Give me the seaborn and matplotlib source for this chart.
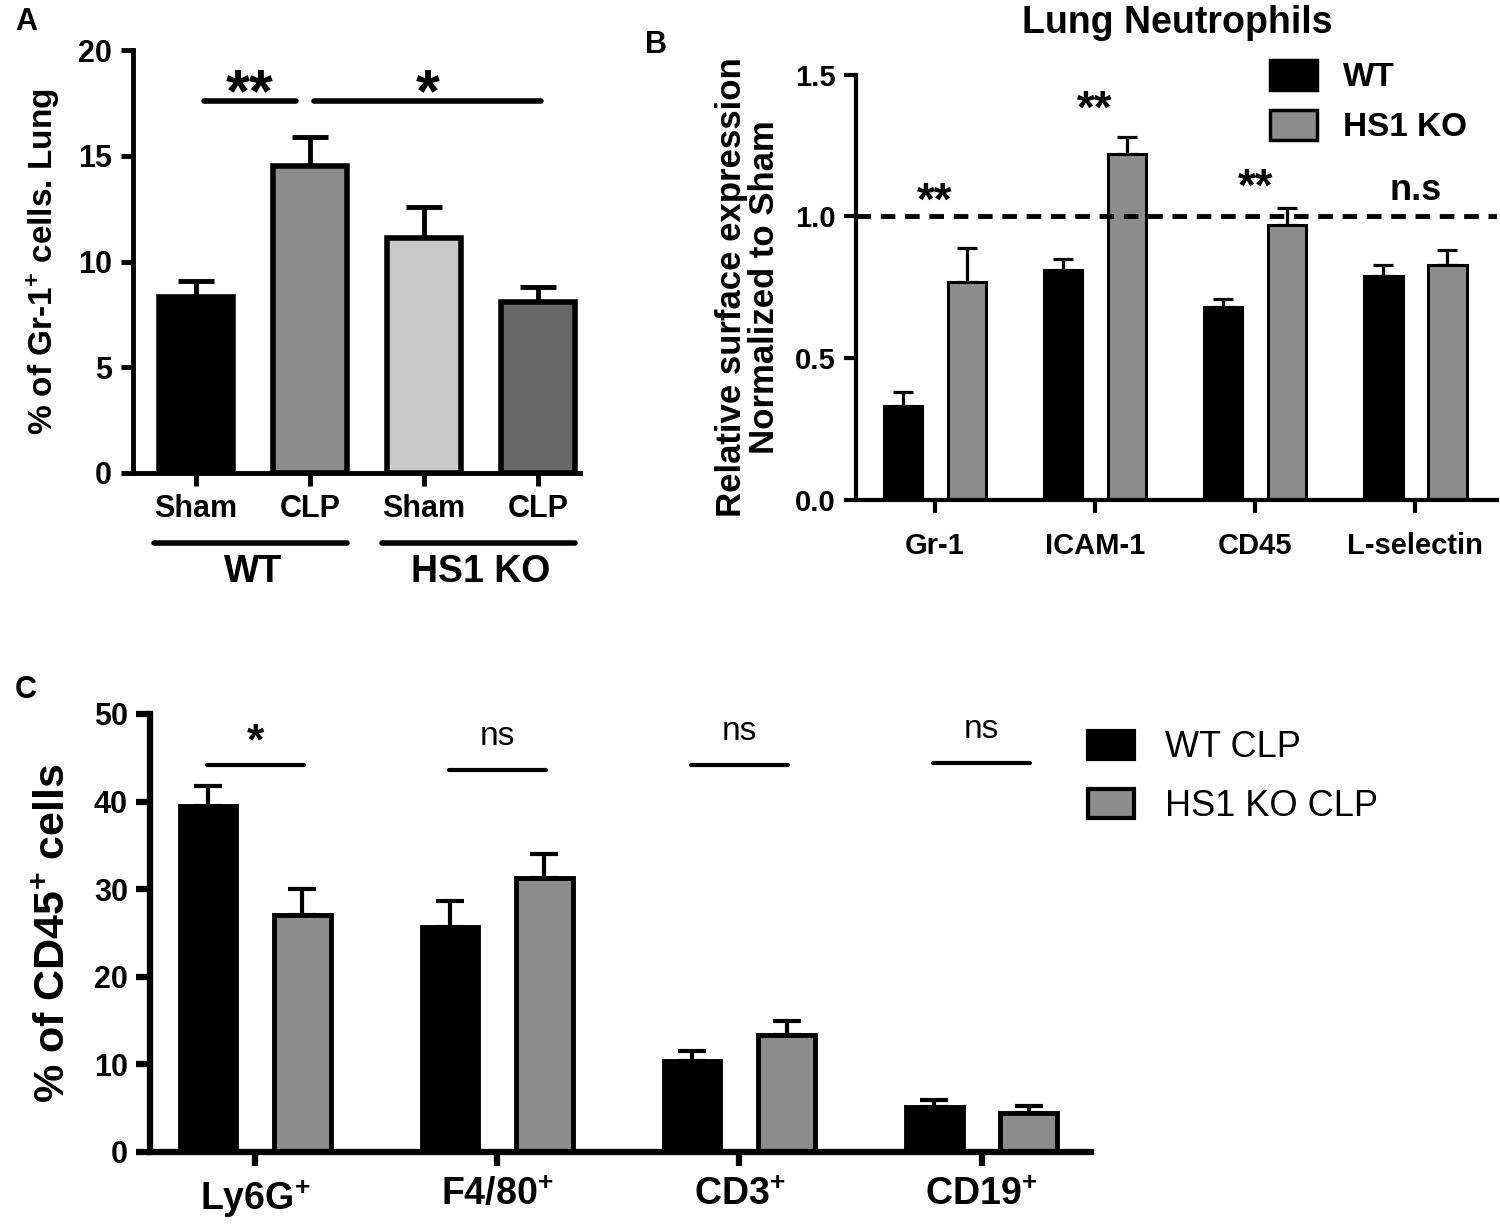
import numpy as np
import pandas as pd
import seaborn as sns
import matplotlib.pyplot as plt
from matplotlib.patches import Patch

# --- Painel A: % de células Gr-1+ no pulmão ---
grupos_a = ['WT Sham', 'WT CLP', 'KO Sham', 'KO CLP']
rotulos_a = ['Sham', 'CLP', 'Sham', 'CLP']
media_a = [8.3, 14.5, 11.1, 8.1]
erro_a = [0.8, 1.4, 1.5, 0.7]
cores_a = ['#000000', '#8c8c8c', '#cacaca', '#686868']

# --- Painel B: expressão relativa (neutrófilos do pulmão) ---
marcadores_b = ['Gr-1', 'ICAM-1', 'CD45', 'L-selectin']
wt_b = [0.33, 0.81, 0.68, 0.79]
wt_b_erro = [0.05, 0.04, 0.03, 0.04]
ko_b = [0.77, 1.22, 0.97, 0.83]
ko_b_erro = [0.12, 0.06, 0.06, 0.05]
sig_b = ['**', '**', '**', 'n.s']
sig_b_y = [0.97, 1.295, 1.02, 1.03]

# --- Painel C: % de células CD45+ ---
celulas_c = ['Ly6G', 'F4/80', 'CD3', 'CD19']
wt_c = [39.5, 25.7, 10.4, 5.1]
wt_c_erro = [2.3, 2.9, 1.1, 0.8]
ko_c = [27.1, 31.3, 13.4, 4.4]
ko_c_erro = [2.9, 2.7, 1.5, 0.8]
sig_c = ['*', 'ns', 'ns', 'ns']
linha_c_y = [44.2, 43.6, 44.2, 44.4]

sns.set_style('ticks')
plt.rcParams['font.family'] = ['Liberation Sans', 'DejaVu Sans']
plt.rcParams['text.color'] = 'black'
plt.rcParams['axes.labelcolor'] = 'black'
plt.rcParams['xtick.color'] = 'black'
plt.rcParams['ytick.color'] = 'black'
plt.rcParams['axes.edgecolor'] = 'black'
plt.rcParams['mathtext.fontset'] = 'custom'
plt.rcParams['mathtext.rm'] = 'Liberation Sans:bold'
plt.rcParams['mathtext.it'] = 'Liberation Sans:bold'
plt.rcParams['mathtext.bf'] = 'Liberation Sans:bold'


def estilo(ax, lw, tam):
    sns.despine(ax=ax)
    for s in ['left', 'bottom']:
        ax.spines[s].set_linewidth(lw)
    ax.tick_params(width=lw, length=tam, direction='out', pad=6)


def barras_erro(ax, barras, medias, erros, lw, cap):
    xs = [b.get_x() + b.get_width() / 2 for b in barras]
    ax.errorbar(xs, medias, yerr=[np.zeros(len(erros)), erros], fmt='none',
                ecolor='black', elinewidth=lw, capsize=cap, capthick=lw, zorder=0.5)


fig = plt.figure(figsize=(15, 12.25), dpi=100)

# ---------------- Painel A ----------------
ax_a = fig.add_axes([0.0887, 0.614, 0.298, 0.345])
df_a = pd.DataFrame({'grupo': grupos_a, 'valor': media_a})
sns.barplot(data=df_a, x='grupo', y='valor', hue='grupo', order=grupos_a, hue_order=grupos_a,
            palette=cores_a, width=0.65, edgecolor='black', linewidth=4, legend=False, ax=ax_a)
barras_erro(ax_a, ax_a.patches, media_a, erro_a, 3.5, 13)
estilo(ax_a, 3.5, 9)
ax_a.set_xlim(-0.55, 3.37)
ax_a.set_ylim(0, 20)
ax_a.set_yticks([0, 5, 10, 15, 20])
ax_a.set_xticks(range(4))
ax_a.set_xticklabels(rotulos_a, fontsize=22, fontweight='bold')
for t in ax_a.get_yticklabels():
    t.set_fontsize(22)
    t.set_fontweight('bold')
ax_a.set_xlabel('')
ax_a.set_ylabel('% of Gr-1$^{+}$ cells. Lung', fontsize=24, fontweight='bold', labelpad=12)
# linhas de significância
ax_a.plot([0.07, 0.88], [17.6, 17.6], color='black', lw=4, clip_on=False)
ax_a.plot([1.04, 3.03], [17.6, 17.6], color='black', lw=4, clip_on=False)
ax_a.text(0.47, 16.5, '**', ha='center', va='bottom', fontsize=44, fontweight='bold')
ax_a.text(2.03, 16.5, '*', ha='center', va='bottom', fontsize=44, fontweight='bold')
# rótulos de grupo abaixo do eixo
trans = ax_a.get_xaxis_transform()
ax_a.plot([-0.37, 1.33], [-0.165, -0.165], color='black', lw=4, transform=trans, clip_on=False)
ax_a.plot([1.63, 3.33], [-0.165, -0.165], color='black', lw=4, transform=trans, clip_on=False)
ax_a.text(0.5, -0.235, 'WT', ha='center', va='center', fontsize=27, fontweight='bold', transform=trans)
ax_a.text(2.5, -0.235, 'HS1 KO', ha='center', va='center', fontsize=27, fontweight='bold', transform=trans)

# ---------------- Painel B ----------------
ax_b = fig.add_axes([0.571, 0.592, 0.427, 0.347])
df_b = pd.DataFrame({'marcador': marcadores_b * 2,
                     'grupo': ['WT'] * 4 + ['HS1 KO'] * 4,
                     'valor': wt_b + ko_b})
sns.barplot(data=df_b, x='marcador', y='valor', hue='grupo', order=marcadores_b,
            hue_order=['WT', 'HS1 KO'], palette=['#000000', '#8c8c8c'], width=0.8, gap=0.4,
            edgecolor='black', linewidth=2.2, legend=False, ax=ax_b)
barras_erro(ax_b, ax_b.containers[0], wt_b, wt_b_erro, 2.3, 7)
barras_erro(ax_b, ax_b.containers[1], ko_b, ko_b_erro, 2.3, 7)
estilo(ax_b, 3, 9)
ax_b.set_xlim(-0.49, 3.51)
ax_b.set_ylim(0, 1.5)
ax_b.set_yticks([0.0, 0.5, 1.0, 1.5])
ax_b.set_yticklabels(['0.0', '0.5', '1.0', '1.5'])
for t in ax_b.get_yticklabels() + ax_b.get_xticklabels():
    t.set_fontsize(21)
    t.set_fontweight('bold')
ax_b.tick_params(axis='x', pad=14)
ax_b.axhline(1.0, color='black', lw=3.5, linestyle=(0, (3, 2)), zorder=3)
ax_b.set_xlabel('')
ax_b.set_ylabel('Relative surface expression\nNormalized to Sham', fontsize=25,
                fontweight='bold', labelpad=10, linespacing=1.0)
ax_b.set_title('Lung Neutrophils', fontsize=27, fontweight='bold', pad=30)
for i, (s, y) in enumerate(zip(sig_b, sig_b_y)):
    if s == 'n.s':
        ax_b.text(i, y, s, ha='center', va='bottom', fontsize=26, fontweight='bold')
    else:
        ax_b.text(i, y, s, ha='center', va='bottom', fontsize=33, fontweight='bold')
ax_b.legend(handles=[Patch(facecolor='#000000', edgecolor='black', lw=2.5, label='WT'),
                     Patch(facecolor='#8c8c8c', edgecolor='black', lw=2.5, label='HS1 KO')],
            loc='upper left', bbox_to_anchor=(1240 / 1500, 1 - 30 / 1225),
            bbox_transform=fig.transFigure, frameon=False, handlelength=1.4,
            handleheight=1.0, labelspacing=0.5, handletextpad=0.8,
            prop={'weight': 'bold', 'size': 24})

# ---------------- Painel C ----------------
ax_c = fig.add_axes([0.1, 0.0596, 0.627, 0.3576])
df_c = pd.DataFrame({'celula': celulas_c * 2,
                     'grupo': ['WT CLP'] * 4 + ['HS1 KO CLP'] * 4,
                     'valor': wt_c + ko_c})
sns.barplot(data=df_c, x='celula', y='valor', hue='grupo', order=celulas_c,
            hue_order=['WT CLP', 'HS1 KO CLP'], palette=['#000000', '#8c8c8c'], width=0.78, gap=0.4,
            edgecolor='black', linewidth=3.5, legend=False, ax=ax_c)
barras_erro(ax_c, ax_c.containers[0], wt_c, wt_c_erro, 3, 10)
barras_erro(ax_c, ax_c.containers[1], ko_c, ko_c_erro, 3, 10)
estilo(ax_c, 4.5, 10)
ax_c.set_xlim(-0.434, 3.45)
ax_c.set_ylim(0, 50)
ax_c.set_yticks([0, 10, 20, 30, 40, 50])
ax_c.set_xticks(range(4))
ax_c.set_xticklabels([c + '$^{+}$' for c in celulas_c])
for t in ax_c.get_xticklabels():
    t.set_fontsize(27)
    t.set_fontweight('bold')
for t in ax_c.get_yticklabels():
    t.set_fontsize(22)
    t.set_fontweight('bold')
ax_c.tick_params(axis='x', pad=8)
ax_c.set_xlabel('')
ax_c.set_ylabel('% of CD45$^{+}$ cells', fontsize=31, fontweight='bold', labelpad=14)
for i, (s, y) in enumerate(zip(sig_c, linha_c_y)):
    ax_c.plot([i - 0.2, i + 0.2], [y, y], color='black', lw=3, clip_on=False)
    if s == '*':
        ax_c.text(i, y + 0.2, s, ha='center', va='bottom', fontsize=32, fontweight='bold')
    else:
        ax_c.text(i, y + 2.0, s, ha='center', va='bottom', fontsize=24)
ax_c.legend(handles=[Patch(facecolor='#000000', edgecolor='black', lw=3, label='WT CLP'),
                     Patch(facecolor='#8c8c8c', edgecolor='black', lw=3, label='HS1 KO CLP')],
            loc='upper left', bbox_to_anchor=(1055 / 1500, 1 - 698 / 1225),
            bbox_transform=fig.transFigure, frameon=False, handlelength=1.3,
            handleheight=0.85, labelspacing=0.65, handletextpad=0.85,
            prop={'size': 26})

# letras dos painéis
fig.text(15 / 1500, 1 - 22 / 1225, 'A', fontsize=22, fontweight='bold', va='center')
fig.text(645 / 1500, 1 - 45 / 1225, 'B', fontsize=22, fontweight='bold', va='center')
fig.text(15 / 1500, 1 - 690 / 1225, 'C', fontsize=22, fontweight='bold', va='center')

fig.savefig('out.png', dpi=100)
